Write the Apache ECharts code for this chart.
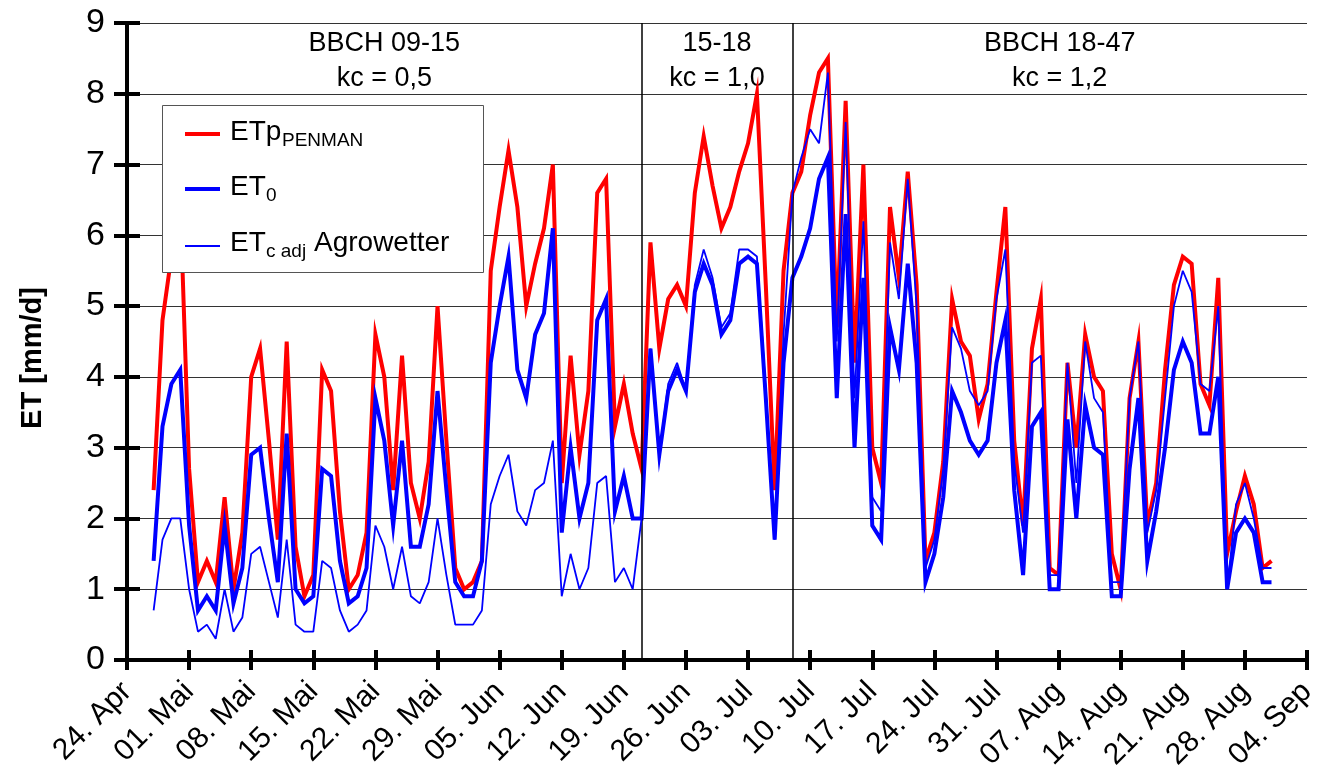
<!DOCTYPE html>
<html><head><meta charset="utf-8">
<script src="https://cdn.jsdelivr.net/npm/echarts@6/dist/echarts.min.js"></script>
<style>html,body{margin:0;padding:0;background:#fff}#c{width:1320px;height:778px}</style>
</head><body><div id="c"></div>
<script>
// x axis: days after 24 Apr, weekly tick labels
const tickLabels = ['24. Apr','01. Mai','08. Mai','15. Mai','22. Mai','29. Mai','05. Jun','12. Jun','19. Jun','26. Jun','03. Jul','10. Jul','17. Jul','24. Jul','31. Jul','07. Aug','14. Aug','21. Aug','28. Aug','04. Sep'];
const firstDay = 3; // first value = 27 Apr
const etpPenman = [
 2.4,4.8,5.7,6.5,2.7,1.1,1.4,1.1,2.3,1.0,
 1.8,4.0,4.4,3.1,1.7,4.5,1.6,0.9,1.2,4.1,
 3.8,2.1,1.0,1.2,1.8,4.6,4.0,2.4,4.3,2.5,
 2.0,2.8,5.0,3.1,1.3,1.0,1.1,1.4,5.5,6.4,
 7.2,6.4,5.0,5.6,6.1,7.0,2.5,4.3,2.9,3.8,
 6.6,6.8,3.3,3.9,3.2,2.7,5.9,4.4,5.1,5.3,
 5.0,6.6,7.4,6.7,6.1,6.4,6.9,7.3,8.0,5.3,
 2.4,5.5,6.6,6.9,7.7,8.3,8.5,4.7,7.9,4.2,
 7.0,3.0,2.5,6.4,5.4,6.9,5.3,1.4,1.8,2.8,
 5.1,4.5,4.3,3.4,3.9,5.2,6.4,3.1,1.9,4.4,
 5.1,1.3,1.2,4.2,3.0,4.6,4.0,3.8,1.5,1.0,
 3.7,4.5,1.9,2.5,4.1,5.3,5.7,5.6,3.9,3.6,
 5.4,1.5,2.1,2.6,2.2,1.3,1.4];
const et0 = [
 1.4,3.3,3.9,4.1,1.9,0.7,0.9,0.7,1.9,0.8,
 1.3,2.9,3.0,2.0,1.1,3.2,1.0,0.8,0.9,2.7,
 2.6,1.4,0.8,0.9,1.3,3.7,3.1,1.9,3.1,1.6,
 1.6,2.2,3.8,2.4,1.1,0.9,0.9,1.4,4.2,5.0,
 5.7,4.1,3.7,4.6,4.9,6.1,1.8,3.0,2.0,2.5,
 4.8,5.1,2.1,2.6,2.0,2.0,4.4,2.9,3.8,4.1,
 3.8,5.2,5.6,5.3,4.6,4.8,5.6,5.7,5.6,3.7,
 1.7,4.2,5.4,5.7,6.1,6.8,7.1,3.7,6.3,3.0,
 5.4,1.9,1.7,4.7,4.1,5.6,4.2,1.1,1.5,2.3,
 3.8,3.5,3.1,2.9,3.1,4.2,4.8,2.4,1.2,3.3,
 3.5,1.0,1.0,3.4,2.0,3.6,3.0,2.9,0.9,0.9,
 2.7,3.7,1.4,2.1,3.0,4.1,4.5,4.2,3.2,3.2,
 4.0,1.0,1.8,2.0,1.8,1.1,1.1];
const etcAgrowetter = [
 0.7,1.7,2.0,2.0,1.0,0.4,0.5,0.3,1.0,0.4,
 0.6,1.5,1.6,1.1,0.6,1.7,0.5,0.4,0.4,1.4,
 1.3,0.7,0.4,0.5,0.7,1.9,1.6,1.0,1.6,0.9,
 0.8,1.1,2.0,1.2,0.5,0.5,0.5,0.7,2.2,2.6,
 2.9,2.1,1.9,2.4,2.5,3.1,0.9,1.5,1.0,1.3,
 2.5,2.6,1.1,1.3,1.0,2.0,4.4,2.9,3.9,4.2,
 3.8,5.3,5.8,5.4,4.7,4.9,5.8,5.8,5.7,3.8,
 1.7,4.6,6.6,7.1,7.5,7.3,8.3,4.5,7.6,3.7,
 6.2,2.3,2.1,5.9,5.1,6.8,5.0,1.3,1.7,2.7,
 4.7,4.4,3.8,3.6,3.8,5.1,5.8,2.8,1.8,4.2,
 4.3,1.2,1.2,4.2,2.5,4.5,3.7,3.5,1.1,1.1,
 3.7,4.5,1.8,2.4,3.7,5.0,5.5,5.2,3.9,3.8,
 5.0,1.0,2.2,2.5,2.0,1.3,1.3];
const phaseBounds = [0, 58, 75, 133];
const phaseNames = ['BBCH 09-15\nkc = 0,5', '15-18\nkc = 1,0', 'BBCH 18-47\nkc = 1,2'];
const yTicks = [0,1,2,3,4,5,6,7,8,9];

const FONT = 'Liberation Sans, Arial, Helvetica, sans-serif';
const pairs = arr => arr.map((v, i) => [firstDay + i, v]);
const xMax = (tickLabels.length - 1) * 7;

const chart = echarts.init(document.getElementById('c'), null, {renderer: 'canvas'});
const xBase = {type: 'value', min: 0, max: xMax, interval: 7, gridIndex: 0, splitLine: {show: false}};
const yBase = {type: 'value', min: yTicks[0], max: yTicks[yTicks.length - 1], interval: 1, gridIndex: 0};

chart.setOption({
  animation: false,
  backgroundColor: '#fff',
  textStyle: {fontFamily: FONT},
  grid: {left: 127, right: 13, top: 23, bottom: 118},
  xAxis: [
    Object.assign({}, xBase, {
      position: 'bottom',
      axisLine: {show: true, lineStyle: {color: '#000', width: 4}},
      axisTick: {show: true, inside: false, length: 10, lineStyle: {color: '#000', width: 4}},
      axisLabel: {show: true, rotate: 45, margin: 27, fontSize: 30, color: '#000', fontFamily: FONT,
        showMinLabel: true, showMaxLabel: true, hideOverlap: false,
        formatter: v => tickLabels[Math.round(v / 7)] || ''}
    }),
    Object.assign({}, xBase, {
      position: 'bottom',
      axisLine: {show: false},
      axisTick: {show: true, inside: true, length: 10, lineStyle: {color: '#000', width: 4}},
      axisLabel: {show: false}
    }),
    Object.assign({}, xBase, {
      position: 'top',
      axisLine: {show: true, lineStyle: {color: '#000', width: 2}},
      axisTick: {show: false}, axisLabel: {show: false}
    })
  ],
  yAxis: [
    Object.assign({}, yBase, {
      position: 'left',
      axisLine: {show: true, lineStyle: {color: '#000', width: 4}},
      axisTick: {show: true, inside: false, length: 13, lineStyle: {color: '#000', width: 4}},
      axisLabel: {show: true, fontSize: 34, color: '#000', margin: 22, fontFamily: FONT},
      splitLine: {show: true, lineStyle: {color: '#333', width: 1}}
    }),
    Object.assign({}, yBase, {
      position: 'left',
      axisLine: {show: false},
      axisTick: {show: true, inside: true, length: 13, lineStyle: {color: '#000', width: 4}},
      axisLabel: {show: false}, splitLine: {show: false}
    }),
    Object.assign({}, yBase, {
      position: 'right',
      axisLine: {show: true, lineStyle: {color: '#000', width: 2}},
      axisTick: {show: false}, axisLabel: {show: false}, splitLine: {show: false}
    })
  ],
  series: [
    {
      name: 'ETp PENMAN', type: 'line', xAxisIndex: 0, yAxisIndex: 0,
      data: pairs(etpPenman), symbol: 'none', z: 3,
      lineStyle: {color: '#ff0000', width: 4, join: 'miter'},
      markLine: {
        silent: true, symbol: 'none', label: {show: false},
        lineStyle: {color: '#000', width: 1.5, type: 'solid'},
        data: phaseBounds.slice(1, -1).map(b => ({xAxis: b}))
      },
      markArea: {
        silent: true,
        itemStyle: {color: 'rgba(0,0,0,0)'},
        label: {show: true, position: 'inside', color: '#000', fontSize: 27, lineHeight: 35, fontFamily: FONT,
          formatter: p => p.name},
        data: phaseNames.map((n, i) => [
          {name: n, xAxis: phaseBounds[i], yAxis: 8, label: {offset: i === 2 ? [10, 3] : [0, 3]}},
          {xAxis: phaseBounds[i + 1], yAxis: 9}
        ])
      }
    },
    {
      name: 'ET0', type: 'line', xAxisIndex: 0, yAxisIndex: 0,
      data: pairs(et0), symbol: 'none', z: 4,
      lineStyle: {color: '#0000ff', width: 4, join: 'miter'}
    },
    {
      name: 'ETc adj Agrowetter', type: 'line', xAxisIndex: 0, yAxisIndex: 0,
      data: pairs(etcAgrowetter), symbol: 'none', z: 5,
      lineStyle: {color: '#0000ff', width: 1.8}
    }
  ],
  graphic: [
    {type: 'text', x: 33, y: 358, rotation: Math.PI / 2, z: 10,
      style: {text: 'ET [mm/d]', fontSize: 29, fontWeight: 'bold', fill: '#000', fontFamily: FONT, align: 'center', verticalAlign: 'middle'}},
    {type: 'rect', z: 20, shape: {x: 162.5, y: 105.5, width: 321, height: 167},
      style: {fill: '#fff', stroke: '#555', lineWidth: 1}},
    {type: 'line', z: 21, shape: {x1: 185, y1: 134, x2: 220, y2: 134}, style: {stroke: '#ff0000', lineWidth: 4}},
    {type: 'line', z: 21, shape: {x1: 185, y1: 189, x2: 220, y2: 189}, style: {stroke: '#0000ff', lineWidth: 4}},
    {type: 'line', z: 21, shape: {x1: 185, y1: 246, x2: 220, y2: 246}, style: {stroke: '#0000ff', lineWidth: 1.8}},
    {type: 'text', z: 21, x: 230, y: 132, style: {text: 'ETp', fontSize: 28, fill: '#000', fontFamily: FONT, verticalAlign: 'middle'}},
    {type: 'text', z: 21, x: 282, y: 141, style: {text: 'PENMAN', fontSize: 19, fill: '#000', fontFamily: FONT, verticalAlign: 'middle'}},
    {type: 'text', z: 21, x: 230, y: 187, style: {text: 'ET', fontSize: 28, fill: '#000', fontFamily: FONT, verticalAlign: 'middle'}},
    {type: 'text', z: 21, x: 266, y: 196, style: {text: '0', fontSize: 19, fill: '#000', fontFamily: FONT, verticalAlign: 'middle'}},
    {type: 'text', z: 21, x: 230, y: 243, style: {text: 'ET', fontSize: 28, fill: '#000', fontFamily: FONT, verticalAlign: 'middle'}},
    {type: 'text', z: 21, x: 266, y: 252, style: {text: 'c adj', fontSize: 19, fill: '#000', fontFamily: FONT, verticalAlign: 'middle'}},
    {type: 'text', z: 21, x: 314, y: 243, style: {text: 'Agrowetter', fontSize: 28, fill: '#000', fontFamily: FONT, verticalAlign: 'middle'}}
  ]
});
</script>
</body></html>
